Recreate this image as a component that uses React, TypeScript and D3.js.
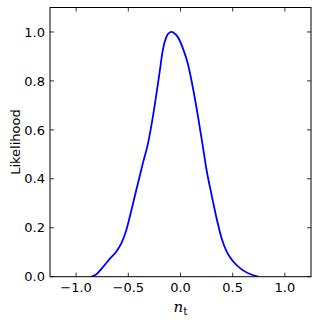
import React from 'react';
import * as d3 from 'd3';

const ntValues = [
  -0.853, -0.805, -0.742, -0.678, -0.614, -0.566, -0.518, -0.478, -0.438, -0.398,
  -0.359, -0.311, -0.278, -0.246, -0.198, -0.17, -0.137, -0.105, -0.085, -0.06,
  -0.03, 0.025, 0.073, 0.121, 0.169, 0.211, 0.249, 0.297, 0.345, 0.393,
  0.441, 0.505, 0.585, 0.664, 0.744,
];
const likelihood = [
  0.0, 0.01, 0.04, 0.073, 0.103, 0.137, 0.192, 0.258, 0.329, 0.398,
  0.466, 0.545, 0.62, 0.703, 0.842, 0.925, 0.978, 0.998, 1.0, 0.995,
  0.982, 0.931, 0.866, 0.767, 0.651, 0.541, 0.438, 0.336, 0.24, 0.158,
  0.103, 0.062, 0.03, 0.011, 0.0,
];
const xTicks = [-1.0, -0.5, 0.0, 0.5, 1.0];
const yTicks = [0.0, 0.2, 0.4, 0.6, 0.8, 1.0];

const width = 319;
const height = 328;
const left = 50;
const right = 311;
const top = 7.5;
const bottom = 276.7;
const tickLen = 4;
const font = 'DejaVu Sans, sans-serif';

const fmt = (v: number) => v.toFixed(1).replace('-', '\u2212');

export default function App() {
  const xScale = d3.scaleLinear().domain([-1.25, 1.25]).range([left, right]);
  const yScale = d3.scaleLinear().domain([0, 1.1]).range([bottom, top]);

  const points: [number, number][] = ntValues.map((v, i) => [v, likelihood[i]]);
  const line = d3
    .line<[number, number]>()
    .x(d => xScale(d[0]))
    .y(d => yScale(d[1]))
    .curve(d3.curveMonotoneX);

  return (
    <svg
      width={width}
      height={height}
      style={{ position: 'absolute', left: 0, top: 0, display: 'block' }}
    >
      <rect x={0} y={0} width={width} height={height} fill="white" />
      <defs>
        <clipPath id="plotClip">
          <rect x={left} y={top} width={right - left} height={bottom - top} />
        </clipPath>
      </defs>
      <path
        d={line(points) || ''}
        fill="none"
        stroke="#0000ff"
        strokeWidth={1.8}
        strokeLinejoin="round"
        clipPath="url(#plotClip)"
      />
      {/* ticks, pointing inward on all four sides */}
      {xTicks.map(t => (
        <g key={'x' + t}>
          <line x1={xScale(t)} x2={xScale(t)} y1={bottom} y2={bottom - tickLen} stroke="black" strokeWidth={0.8} />
          <line x1={xScale(t)} x2={xScale(t)} y1={top} y2={top + tickLen} stroke="black" strokeWidth={0.8} />
          <text
            x={xScale(t)}
            y={bottom + 15}
            textAnchor="middle"
            fontFamily={font}
            fontSize={13}
          >
            {fmt(t)}
          </text>
        </g>
      ))}
      {yTicks.map(t => (
        <g key={'y' + t}>
          <line x1={left} x2={left + tickLen} y1={yScale(t)} y2={yScale(t)} stroke="black" strokeWidth={0.8} />
          <line x1={right} x2={right - tickLen} y1={yScale(t)} y2={yScale(t)} stroke="black" strokeWidth={0.8} />
          <text
            x={left - 5}
            y={yScale(t)}
            dy="0.36em"
            textAnchor="end"
            fontFamily={font}
            fontSize={13}
          >
            {fmt(t)}
          </text>
        </g>
      ))}
      <rect
        x={left}
        y={top}
        width={right - left}
        height={bottom - top}
        fill="none"
        stroke="black"
        strokeWidth={1}
      />
      <text
        transform={`translate(19.5, ${(top + bottom) / 2}) rotate(-90)`}
        textAnchor="middle"
        fontFamily={font}
        fontSize={13}
      >
        Likelihood
      </text>
      <text
        x={(left + right) / 2}
        y={312}
        textAnchor="middle"
        fontFamily="DejaVu Serif, serif"
        fontSize={15}
      >
        <tspan fontStyle="italic">n</tspan>
        <tspan fontSize={10.5} dy={3}>t</tspan>
      </text>
    </svg>
  );
}
